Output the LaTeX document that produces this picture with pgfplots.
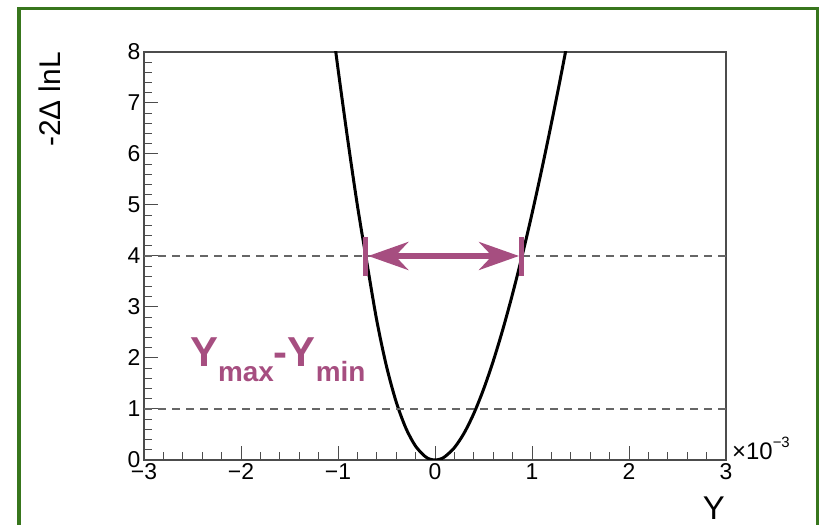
\documentclass[border=0pt]{standalone}
\usepackage{pgfplots}
\pgfplotsset{compat=1.18}
\usepackage{fontspec}
\setmainfont{Liberation Sans}
\usetikzlibrary{arrows.meta}
\definecolor{framegreen}{HTML}{38761D}
\definecolor{bandpink}{RGB}{166,78,128}
\definecolor{axisgray}{gray}{0.3}
\definecolor{dashgray}{gray}{0.4}

\begin{document}
\begin{tikzpicture}[x=1bp,y=1bp]
\useasboundingbox (0,0) rectangle (821,525);

% outer frame (open at the bottom)
\draw[framegreen, line width=3.5bp] (19,-10) -- (19,516.5) -- (817.5,516.5) -- (817.5,-10);

\begin{axis}[
  at={(144bp,65bp)}, anchor=south west,
  scale only axis, width=582bp, height=408bp,
  xmin=-3, xmax=3, ymin=0, ymax=8,
  xtick={-3,-2,-1,0,1,2,3},
  xticklabels={−3,−2,−1,0,1,2,3},
  ytick={0,1,2,3,4,5,6,7,8},
  yticklabels={0,1,2,3,4,5,6,7,8},
  minor x tick num=4, minor y tick num=4,
  tick pos=left, tick align=inside,
  major tick length=14bp, minor tick length=7.5bp,
  axis line style={axisgray, line width=1.2bp},
  every tick/.style={axisgray, line width=1bp},
  tick label style={font=\fontsize{23}{26}\selectfont},
]

% likelihood scan, -2 Delta lnL versus Y (in units of 1e-3)
\addplot[black, line width=3bp, smooth] coordinates {
  (-1.05,8.41) (-1.0,7.67) (-0.9,6.285) (-0.8,4.99) (-0.7,3.845)
  (-0.6,2.732) (-0.5,1.836) (-0.4,1.138) (-0.3,0.623) (-0.2,0.270)
  (-0.1,0.0657) (-0.05,0.0162) (0,0) (0.05,0.0158) (0.1,0.0622)
  (0.2,0.2415) (0.3,0.5277) (0.4,0.9114) (0.5,1.384) (0.6,1.938)
  (0.7,2.566) (0.8,3.261) (0.9,4.018) (1.0,4.830) (1.1,5.693)
  (1.2,6.603) (1.3,7.554) (1.4,8.543)
};

% reference levels
\addplot[dashgray, line width=1.1bp, dash pattern=on 8bp off 6bp] coordinates {(-3,1) (3,1)};
\addplot[dashgray, line width=1.1bp, dash pattern=on 8bp off 6bp] coordinates {(-3,4) (3,4)};

% interval at -2 Delta lnL = 4
\addplot[bandpink, line width=5.5bp] coordinates {(-0.716,3.61) (-0.716,4.38)};
\addplot[bandpink, line width=5.5bp] coordinates {(0.894,3.61) (0.894,4.38)};
\addplot[bandpink, line width=5.5bp,
  {Stealth[length=40bp,width=28bp,inset=13bp]}-{Stealth[length=40bp,width=28bp,inset=13bp]}]
  coordinates {(-0.688,4) (0.866,4)};

\node[anchor=base west, inner sep=0, text=bandpink,
      font=\bfseries\fontsize{42}{42}\selectfont]
  at (axis cs:-2.526,1.84)
  {Y\raisebox{-15bp}{\fontsize{28}{28}\selectfont max}-Y\raisebox{-15bp}{\fontsize{28}{28}\selectfont min}};
\end{axis}

% axis titles
\node[rotate=90, anchor=east, inner sep=0, font=\fontsize{30}{30}\selectfont]
  at (50,473) {-2Δ lnL};
\node[anchor=north east, inner sep=0, font=\fontsize{33}{33}\selectfont]
  at (725,28) {Y};
\node[anchor=base west, inner sep=0, font=\fontsize{24}{24}\selectfont]
  at (732,65) {×10\raisebox{12bp}{\fontsize{15}{15}\selectfont −3}};
\end{tikzpicture}
\end{document}
